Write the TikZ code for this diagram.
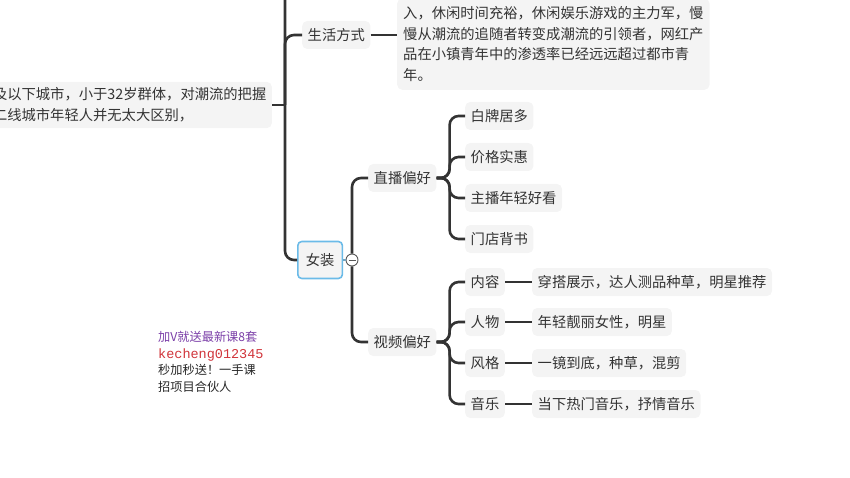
\documentclass[tikz,border=0pt]{standalone}
\usepackage{fontspec}
\newfontfamily\cjk{Noto Sans CJK SC}
\setmonofont{Liberation Mono}
\usepackage{xcolor}
\usetikzlibrary{positioning,calc}
\definecolor{linegray}{HTML}{333333}
\definecolor{boxgray}{HTML}{F4F4F4}
\definecolor{textgray}{HTML}{333333}
\definecolor{selblue}{HTML}{6BBBE8}
\definecolor{wmpurple}{HTML}{7B3FA8}
\definecolor{wmred}{HTML}{D0343A}

\begin{document}
\begin{tikzpicture}[x=1pt, y=-1pt,
    every node/.style={font=\cjk\fontsize{14.3}{20.7}\selectfont, text=textgray},
    topic/.style={fill=boxgray, rounded corners=5pt, inner xsep=5.5pt, minimum height=28pt, anchor=west},
    conn/.style={draw=linegray, line width=2.6pt, rounded corners=9pt}]
    \useasboundingbox (0,0) rectangle (850,478);
    \clip (0,0) rectangle (850,478);
    % upper part of the map
    \node[topic, anchor=east, align=left, inner ysep=6pt] (youth) at (272,105) {及以下城市，小于32岁群体，对潮流的把握\\二线城市年轻人并无太大区别，};
    \node[topic] (life) at (302,35) {生活方式};
    \node[topic, anchor=south west, align=left, inner xsep=6pt, inner ysep=8pt] (lifetext) at (397,90) {入，休闲时间充裕，休闲娱乐游戏的主力军，慢\\慢从潮流的追随者转变成潮流的引领者，网红产\\品在小镇青年中的渗透率已经远远超过都市青\\年。};
    \node[topic, draw=selblue, line width=1.6pt, inner xsep=8pt, minimum height=37pt, rounded corners=4pt] (women) at (297,260) {女装};
    \node[circle, draw=gray!70!black, fill=white, line width=0.9pt, minimum size=12pt, inner sep=0pt] (fold) at (352,260) {};
    \draw[gray!70!black, line width=0.9pt] ($(fold.center)+(-3.5,0)$) -- ($(fold.center)+(3.5,0)$);
    % second level
    \node[topic] (live) at (368,178) {直播偏好};
    \node[topic] (video) at (368,342) {视频偏好};
    \node[topic] (white) at (465,116) {白牌居多};
    \node[topic] (price) at (465,157) {价格实惠};
    \node[topic] (host) at (465,198) {主播年轻好看};
    \node[topic] (store) at (465,239) {门店背书};
    \node[topic] (content) at (465,282) {内容};
    \node[topic] (people) at (465,322) {人物};
    \node[topic] (style) at (465,363) {风格};
    \node[topic] (music) at (465,404) {音乐};
    \node[topic] (contentd) at (532,282) {穿搭展示，达人测品种草，明星推荐};
    \node[topic] (peopled) at (532,322) {年轻靓丽女性，明星};
    \node[topic] (styled) at (532,363) {一镜到底，种草，混剪};
    \node[topic] (musicd) at (532,404) {当下热门音乐，抒情音乐};
    % watermark
    \node[anchor=north west, align=left, inner sep=0pt, text=black!85, font=\cjk\fontsize{12.2}{16.7}\selectfont] (wm) at (158,331) {\textcolor{wmpurple}{加V就送最新课8套}\\{\color{wmred}\ttfamily\fontsize{13.5}{16.7}\selectfont kecheng012345}\\秒加秒送！一手课\\招项目合伙人};
    % connectors
    \coordinate (trunktop) at (285,-5);
    \draw[conn] (youth.east) -- ++(13,0) coordinate (hub);
    \draw[conn] (trunktop) |- (women.west);
    \draw[conn] (hub) |- (life.west);
    \draw[conn] (life.east) -- (life.east -| lifetext.west);
    \draw[draw=selblue!60!gray, line width=2pt] (women.east) -- (fold.west);
    \draw[conn] (fold.north) |- (live.west);
    \draw[conn] (fold.south) |- (video.west);
    \foreach \k in {white,price,host,store}
        \draw[conn] (live.east) -- ++(13,0) |- (\k.west);
    \foreach \k in {content,people,style,music}
        \draw[conn] (video.east) -- ++(13,0) |- (\k.west);
    \foreach \k in {content,people,style,music}
        \draw[conn] (\k.east) -- (\k d.west);
\end{tikzpicture}
\end{document}
